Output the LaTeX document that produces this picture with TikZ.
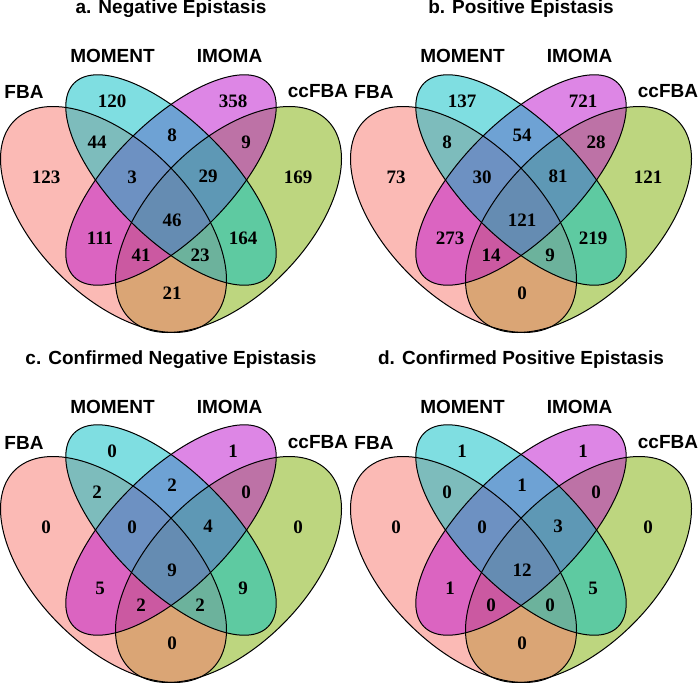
\documentclass[tikz,border=0pt]{standalone}
\usepackage{fontspec}
\setmainfont{Liberation Serif}
\newfontfamily\headfont{Liberation Sans}

\definecolor{fbacol}{RGB}{248,118,109}
\definecolor{momentcol}{RGB}{0,191,196}
\definecolor{imomacol}{RGB}{189,15,205}
\definecolor{ccfbacol}{RGB}{124,174,0}

\tikzset{
	setfill/.style={fill=#1, fill opacity=0.5},
	setline/.style={draw=black, line width=1pt},
	num/.style={font=\fontsize{19}{22}\selectfont\bfseries, inner sep=0pt, anchor=center},
	setname/.style={font=\headfont\fontsize{19}{22}\selectfont\bfseries, inner sep=0pt, anchor=base},
	paneltitle/.style={font=\headfont\fontsize{19}{22}\selectfont\bfseries, inner sep=0pt, anchor=base}
}

% one four-set panel: #1 id, #2 title, #3 the fifteen region counts
\newcommand{\vennpanel}[3]{%
	\coordinate (#1fba) at (113.5,-219.5);
	\coordinate (#1ccfba) at (228.5,-219.5);
	\coordinate (#1mid) at (171,-180);
	% fills, bottom to top
	\fill[setfill=ccfbacol, rotate around={45:(#1ccfba)}] (#1ccfba) ellipse [x radius=140pt, y radius=77pt];
	\fill[setfill=fbacol, rotate around={-45:(#1fba)}] (#1fba) ellipse [x radius=140pt, y radius=77pt];
	\fill[setfill=imomacol, rotate around={45:(#1mid)}] (#1mid) ellipse [x radius=137pt, y radius=58pt];
	\fill[setfill=momentcol, rotate around={-45:(#1mid)}] (#1mid) ellipse [x radius=137pt, y radius=58pt];
	% outlines
	\draw[setline, rotate around={45:(#1ccfba)}] (#1ccfba) ellipse [x radius=140pt, y radius=77pt];
	\draw[setline, rotate around={-45:(#1fba)}] (#1fba) ellipse [x radius=140pt, y radius=77pt];
	\draw[setline, rotate around={45:(#1mid)}] (#1mid) ellipse [x radius=137pt, y radius=58pt];
	\draw[setline, rotate around={-45:(#1mid)}] (#1mid) ellipse [x radius=137pt, y radius=58pt];
	% texts
	\node[paneltitle] (#1title) at (171,-14) {#2};
	\node[setname] (#1fbaname) at (24,-99) {FBA};
	\node[setname] (#1momentname) at (112.5,-63) {MOMENT};
	\node[setname] (#1imomaname) at (229.5,-63) {IMOMA};
	\node[setname] (#1ccfbaname) at (318,-98) {ccFBA};
	\foreach \px/\py [count=\i] in {46/177, 112/101, 233/101, 298/177, 97/142, 172/135, 246/142, 132/177, 208/176, 172/220, 100/238, 243/238, 141/255, 200/255, 172/293}
		\coordinate (#1r\i) at (\px,-\py);
	\foreach \val [count=\i] in {#3}
		\node[num] (#1n\i) at (#1r\i) {\val};
}

\begin{document}
\begin{tikzpicture}[x=1pt, y=1pt]
	\fill[white] (0,0) rectangle (700,-682);
	\useasboundingbox (0,0) rectangle (700,-682);
	\begin{scope}
		\vennpanel{a}{a. Negative Epistasis}{123,120,358,169,44,8,9,3,29,46,111,164,41,23,21}
	\end{scope}
	\begin{scope}[shift={(350,0)}]
		\vennpanel{b}{b. Positive Epistasis}{73,137,721,121,8,54,28,30,81,121,273,219,14,9,0}
	\end{scope}
	\begin{scope}[shift={(0,-350)}]
		\vennpanel{c}{c. Confirmed Negative Epistasis}{0,0,1,0,2,2,0,0,4,9,5,9,2,2,0}
	\end{scope}
	\begin{scope}[shift={(350,-350)}]
		\vennpanel{d}{d. Confirmed Positive Epistasis}{0,1,1,0,0,1,0,0,3,12,1,5,0,0,0}
	\end{scope}
\end{tikzpicture}
\end{document}
